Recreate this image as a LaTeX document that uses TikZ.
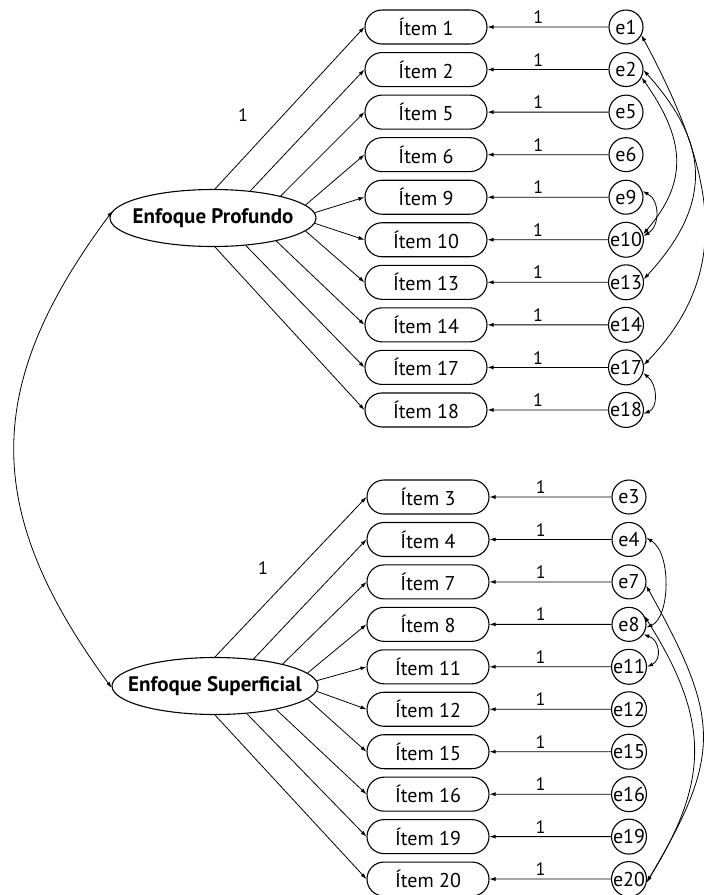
\documentclass[tikz,border=0pt]{standalone}
\usepackage{fontspec}
\setmainfont{PT Sans}
\usetikzlibrary{arrows.meta,shapes.misc,shapes.geometric}

\begin{document}
\begin{tikzpicture}[x=1pt,y=-1pt,line width=0.8pt,>={Latex[length=6pt,width=4pt]},
  item/.style={rounded rectangle,draw,line width=1.1pt,minimum width=122pt,minimum height=34pt,inner sep=0pt,font=\fontsize{20}{22}\selectfont},
  err/.style={circle,draw,line width=1.1pt,minimum size=34pt,inner sep=0pt,font=\fontsize{20}{22}\selectfont},
  latent/.style={ellipse,draw,line width=1.1pt,minimum width=206pt,minimum height=57pt,inner sep=0pt},
  fix/.style={font=\fontsize{18}{20}\selectfont,inner sep=3pt}]
\useasboundingbox (0,0) rectangle (704,895);
\node[latent,label={[font=\bfseries\fontsize{21}{24}\selectfont]center:Enfoque Profundo}] (P) at (213,218) {};
\node[latent,label={[font=\bfseries\fontsize{21}{24}\selectfont]center:Enfoque Superficial}] (S) at (215,686) {};
\foreach \n/\ang [count=\k from 0] in {1/86,2/36,5/18,6/8,9/3,10/-3,13/-8,14/-20,17/-40,18/-86}{
  \node[item] (I\n) at (426,27+42.55*\k) {Ítem \n};
  \node[err] (e\n) at (626,27+42.55*\k) {e\n};
  \draw[->] (e\n) -- node[fix,pos=0.58,above]{1} (I\n);
  \draw[->] (P.\ang) -- (I\n.west);
}
\foreach \n/\ang [count=\k from 0] in {3/90,4/35,7/18,8/8,11/3,12/-3,15/-8,16/-21,19/-41,20/-90}{
  \node[item] (I\n) at (428,497+42.45*\k) {Ítem \n};
  \node[err] (e\n) at (629,497+42.45*\k) {e\n};
  \draw[->] (e\n) -- node[fix,pos=0.58,above]{1} (I\n);
  \draw[->] (S.\ang) -- (I\n.west);
}
\node[fix] at (243,115) {1};
\node[fix] at (263,568) {1};
\draw[<->] (P.176) .. controls (-18,386) and (-18,511) .. (S.181);
\draw[<->] (e1.-28) .. controls (711,165) and (738,268) .. (e17.8);
\draw[<->] (e2.-2) .. controls (710,144) and (713,204) .. (e13.10);
\draw[<->] (e2.-27) .. controls (685,139) and (689,181) .. (e10.18);
\draw[<->] (e9.20) .. controls (660,200) and (660,226) .. (e10.12);
\draw[<->] (e17.-18) .. controls (658,385) and (658,408) .. (e18.-12);
\draw[<->] (e4.5) .. controls (672,553) and (670,618) .. (e8.-10);
\draw[<->] (e8.-35) .. controls (660,640) and (662,660) .. (e11.0);
\draw[<->] (e7.-12) .. controls (720,718) and (723,754) .. (e20.-10);
\draw[<->] (e8.29) .. controls (710,720) and (710,780) .. (e20.-10);
\end{tikzpicture}
\end{document}
